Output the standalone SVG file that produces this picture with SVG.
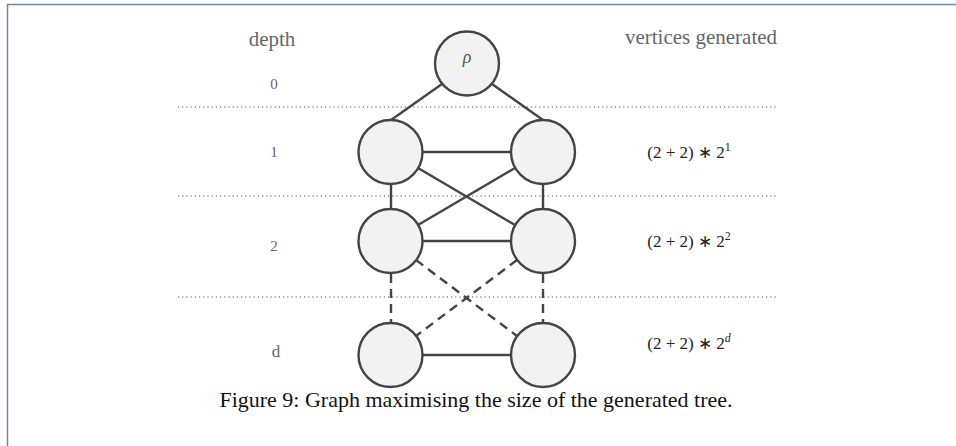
<svg xmlns="http://www.w3.org/2000/svg" width="956" height="446" viewBox="0 0 956 446">
<style>
.node{fill:#f2f2f2;stroke:#444;stroke-width:2.4}
.edge{stroke:#444;stroke-width:2.4;fill:none}
.dash{stroke-dasharray:9 6}
.sep{stroke:#555;stroke-width:1.2;stroke-dasharray:1.2 3}
.lbl{font-family:"Liberation Serif",serif;fill:#666;text-anchor:middle}
.math{font-family:"Liberation Serif",serif;fill:#222;text-anchor:middle;font-size:17px}
.cap{font-family:"Liberation Serif",serif;fill:#111;text-anchor:middle;font-size:22px}
</style>
<rect width="956" height="446" fill="#fff"/>
<path d="M7.5 446 V4.5 H956" fill="none" stroke="#6d86a3" stroke-width="1.5"/>
<g id="separators">
<line class="sep" x1="178" y1="107" x2="778" y2="107"/>
<line class="sep" x1="178" y1="196" x2="778" y2="196"/>
<line class="sep" x1="178" y1="297" x2="778" y2="297"/>
</g>
<g id="connectors">
<line class="edge" x1="442" y1="84" x2="391" y2="120"/>
<line class="edge" x1="492" y1="84" x2="543" y2="120"/>
<line class="edge" x1="422" y1="152" x2="511" y2="152"/>
<line class="edge" x1="418" y1="168" x2="515" y2="225"/>
<line class="edge" x1="515" y1="168" x2="418" y2="225"/>
<line class="edge" x1="391" y1="184" x2="391" y2="209"/>
<line class="edge" x1="543" y1="184" x2="543" y2="209"/>
<line class="edge" x1="422" y1="241" x2="511" y2="241"/>
<line class="edge dash" x1="416" y1="260" x2="517" y2="336"/>
<line class="edge dash" x1="517" y1="260" x2="416" y2="336"/>
<line class="edge dash" x1="391" y1="274" x2="391" y2="322"/>
<line class="edge dash" x1="543" y1="274" x2="543" y2="322"/>
<line class="edge" x1="422" y1="355" x2="511" y2="355"/>
</g>
<g id="root"><circle class="node" cx="467" cy="63.5" r="32"/><text x="467" y="63" font-family="Liberation Serif,serif" font-style="italic" font-size="18" fill="#555" text-anchor="middle">ρ</text></g>
<g id="n1l"><circle class="node" cx="390.5" cy="152" r="32"/></g>
<g id="n1r"><circle class="node" cx="543" cy="152" r="32"/></g>
<g id="n2l"><circle class="node" cx="390.5" cy="241" r="32"/></g>
<g id="n2r"><circle class="node" cx="543" cy="241" r="32"/></g>
<g id="ndl"><circle class="node" cx="390.5" cy="355" r="32"/></g>
<g id="ndr"><circle class="node" cx="543" cy="355" r="32"/></g>
<g id="labels">
<text class="lbl" x="272" y="46" font-size="21">depth</text>
<text class="lbl" x="274" y="89" font-size="15">0</text>
<text class="lbl" x="274" y="157" font-size="15">1</text>
<text class="lbl" x="274" y="251" font-size="15">2</text>
<text class="lbl" x="276" y="357" font-size="17">d</text>
<text class="lbl" x="701" y="44" font-size="21">vertices generated</text>
<text class="math" x="689" y="158">(2 + 2) ∗ 2<tspan font-size="12" dy="-7">1</tspan></text>
<text class="math" x="689" y="247">(2 + 2) ∗ 2<tspan font-size="12" dy="-7">2</tspan></text>
<text class="math" x="689" y="349">(2 + 2) ∗ 2<tspan font-size="12" dy="-7" font-style="italic">d</tspan></text>
<text class="cap" x="476" y="407">Figure 9: Graph maximising the size of the generated tree.</text>
</g>
</svg>
